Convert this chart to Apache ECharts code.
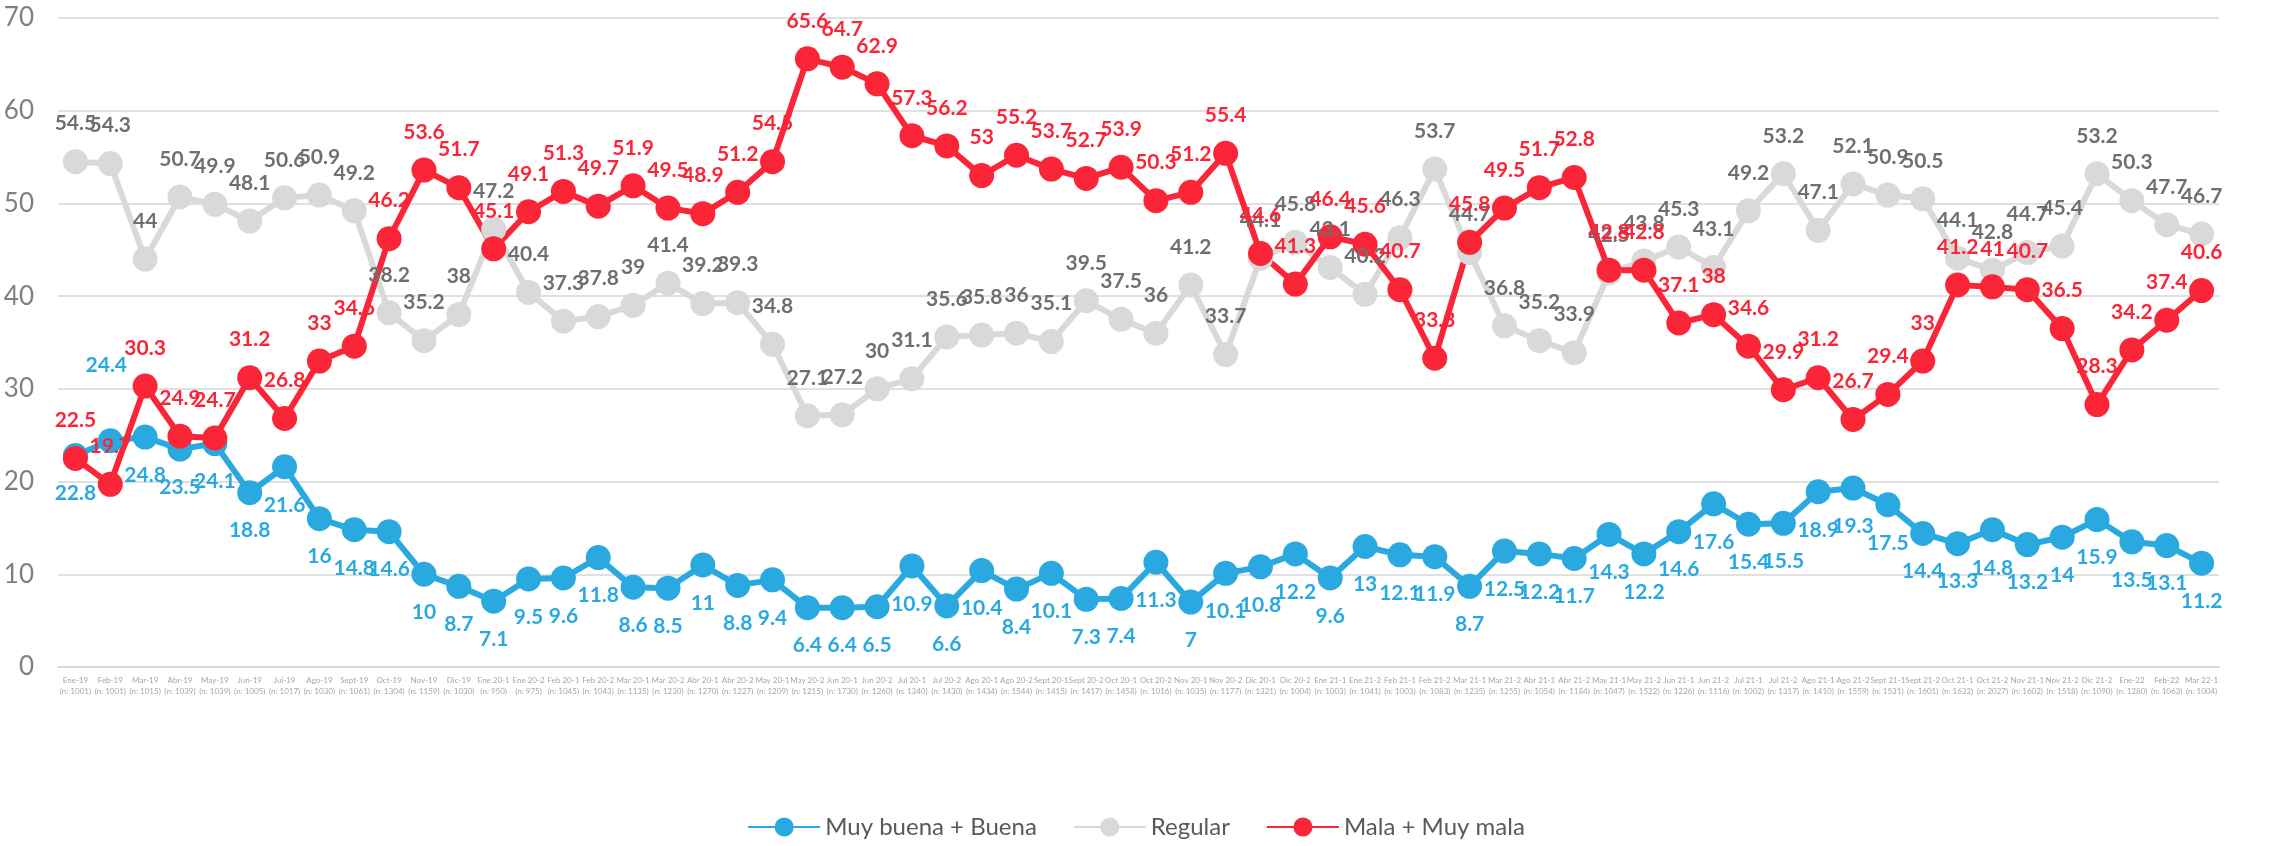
<!DOCTYPE html>
<html lang="es">
<head>
<meta charset="UTF-8">
<title>Evaluación</title>
<script src="https://cdn.jsdelivr.net/npm/echarts@6.0.0/dist/echarts.min.js"></script>
<style>
  html, body { margin: 0; padding: 0; background: #fff; }
</style>
</head>
<body>
<div id="main" style="width:2272px;height:846px;"></div>
<script>
// periodos y tamaño de muestra
var periods = ['Ene-19','Feb-19','Mar-19','Abr-19','May-19','Jun-19','Jul-19','Ago-19','Sept-19','Oct-19','Nov-19','Dic-19',
  'Ene 20-1','Ene 20-2','Feb 20-1','Feb 20-2','Mar 20-1','Mar 20-2','Abr 20-1','Abr 20-2','May 20-1','May 20-2',
  'Jun 20-1','Jun 20-2','Jul 20-1','Jul 20-2','Ago 20-1','Ago 20-2','Sept 20-1','Sept 20-2','Oct 20-1','Oct 20-2',
  'Nov 20-1','Nov 20-2','Dic 20-1','Dic 20-2','Ene 21-1','Ene 21-2','Feb 21-1','Feb 21-2','Mar 21-1','Mar 21-2',
  'Abr 21-1','Abr 21-2','May 21-1','May 21-2','Jun 21-1','Jun 21-2','Jul 21-1','Jul 21-2','Ago 21-1','Ago 21-2',
  'Sept 21-1','Sept 21-2','Oct 21-1','Oct 21-2','Nov 21-1','Nov 21-2','Dic 21-2','Ene-22','Feb-22','Mar 22-1'];
var sampleSizes = [1001,1001,1015,1039,1039,1005,1017,1030,1061,1304,1159,1030,
  950,975,1045,1043,1135,1230,1270,1227,1209,1215,
  1730,1260,1340,1430,1434,1544,1415,1417,1458,1016,
  1035,1177,1321,1004,1003,1041,1003,1083,1235,1255,
  1054,1184,1047,1522,1226,1116,1002,1317,1410,1559,
  1531,1601,1632,2027,1602,1518,1090,1280,1063,1004];

var buena = [22.8,24.4,24.8,23.5,24.1,18.8,21.6,16,14.8,14.6,10,8.7,
  7.1,9.5,9.6,11.8,8.6,8.5,11,8.8,9.4,6.4,
  6.4,6.5,10.9,6.6,10.4,8.4,10.1,7.3,7.4,11.3,
  7,10.1,10.8,12.2,9.6,13,12.1,11.9,8.7,12.5,
  12.2,11.7,14.3,12.2,14.6,17.6,15.4,15.5,18.9,19.3,
  17.5,14.4,13.3,14.8,13.2,14,15.9,13.5,13.1,11.2];
var regular = [54.5,54.3,44,50.7,49.9,48.1,50.6,50.9,49.2,38.2,35.2,38,
  47.2,40.4,37.3,37.8,39,41.4,39.2,39.3,34.8,27.1,
  27.2,30,31.1,35.6,35.8,36,35.1,39.5,37.5,36,
  41.2,33.7,44.1,45.8,43.1,40.2,46.3,53.7,44.7,36.8,
  35.2,33.9,42.5,43.8,45.3,43.1,49.2,53.2,47.1,52.1,
  50.9,50.5,44.1,42.8,44.7,45.4,53.2,50.3,47.7,46.7];
var mala = [22.5,19.7,30.3,24.9,24.7,31.2,26.8,33,34.6,46.2,53.6,51.7,
  45.1,49.1,51.3,49.7,51.9,49.5,48.9,51.2,54.5,65.6,
  64.7,62.9,57.3,56.2,53,55.2,53.7,52.7,53.9,50.3,
  51.2,55.4,44.6,41.3,46.4,45.6,40.7,33.3,45.8,49.5,
  51.7,52.8,42.8,42.8,37.1,38,34.6,29.9,31.2,26.7,
  29.4,33,41.2,41,40.7,36.5,28.3,34.2,37.4,40.6];

var xLabels = periods.map(function (p, i) {
  return p + '\n(n: ' + sampleSizes[i] + ')';
});

var chart = echarts.init(document.getElementById('main'));

function lineSeries(name, data, color, labelColor, pos) {
  return {
    name: name,
    type: 'line',
    data: data,
    symbol: 'circle',
    symbolSize: 25,
    lineStyle: { color: color, width: 6 },
    itemStyle: { color: color },
    label: {
      show: true,
      position: pos,
      distance: 15,
      color: labelColor,
      fontFamily: 'Lato',
      fontWeight: 'bold',
      fontSize: 21
    },
    emphasis: { disabled: true },
    animation: false
  };
}

var option = {
  backgroundColor: '#ffffff',
  textStyle: { fontFamily: 'Lato' },
  grid: { left: 58, right: 53, top: 18, bottom: 179 },
  legend: {
    bottom: 2,
    left: 'center',
    itemWidth: 72,
    itemHeight: 24,
    itemGap: 36,
    textStyle: { fontSize: 24, color: '#595959', fontFamily: 'Lato' },
    data: ['Muy buena + Buena', 'Regular', 'Mala + Muy mala']
  },
  xAxis: {
    type: 'category',
    data: xLabels,
    boundaryGap: true,
    axisLine: { lineStyle: { color: '#d9d9d9', width: 2 } },
    axisTick: { show: false },
    axisLabel: {
      interval: 0,
      fontSize: 8,
      lineHeight: 11,
      color: '#a6a6a6',
      margin: 8
    }
  },
  yAxis: {
    type: 'value',
    min: 0,
    max: 70,
    interval: 10,
    axisLine: { show: false },
    axisTick: { show: false },
    axisLabel: { fontSize: 26, color: '#808080', margin: 24 },
    splitLine: { lineStyle: { color: '#e0e0e0', width: 2 } }
  },
  series: [
    lineSeries('Muy buena + Buena', buena, '#2aa9e0', '#2aa9e0', 'bottom'),
    lineSeries('Regular', regular, '#d9d9d9', '#6f6f6f', 'top'),
    lineSeries('Mala + Muy mala', mala, '#fa2537', '#fa2537', 'top')
  ]
};

// 24.4 label sits above the marker, pulled up-left like the original
option.series[0].data = buena.map(function (v, i) {
  if (i === 1) {
    return { value: v, label: { position: 'top', offset: [-4, -38] } };
  }
  return v;
});

chart.setOption(option);
</script>
</body>
</html>
